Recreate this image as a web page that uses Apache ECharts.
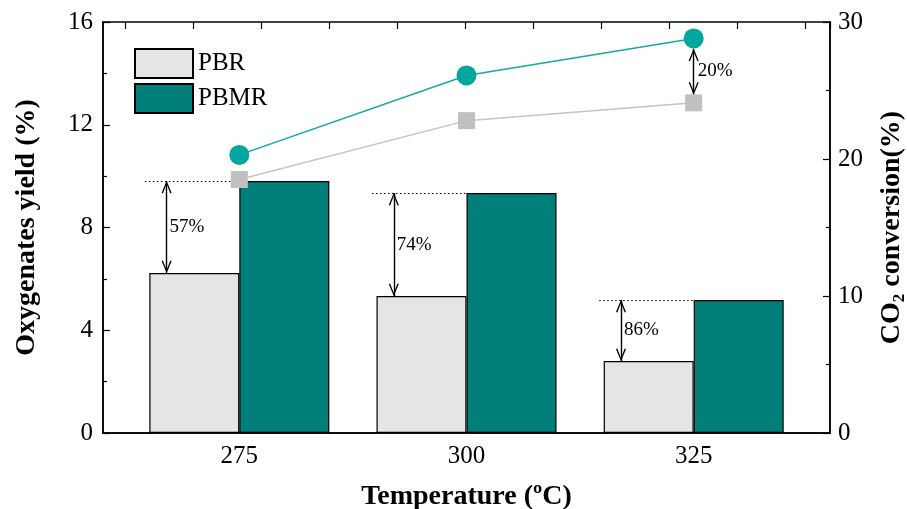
<!DOCTYPE html>
<html>
<head>
<meta charset="utf-8">
<script src="https://cdn.jsdelivr.net/npm/echarts@6/dist/echarts.min.js"></script>
<style>
  html, body { margin: 0; padding: 0; background: #fff; }
  #chart { width: 907px; height: 509px; }
</style>
</head>
<body>
<div id="chart"></div>
<script>
// temperatures (ºC)
const temps = [275, 300, 325]
// oxygenates yield (%), left axis
const pbrYield = [6.23, 5.33, 2.8]
const pbmrYield = [9.81, 9.34, 5.18]
// CO2 conversion (%), right axis
const pbrConv = [18.5, 22.8, 24.1]
const pbmrConv = [20.3, 26.1, 28.8]
// annotation texts
const yieldGain = ['57%', '74%', '86%']
const convGain = '20%'

const serif = 'Liberation Serif'
// open arrow head, tip sits at the symbol centre
const head = 'path://M5,-12 L5.01,-12 Z M5,0 L10,12 L8.7,12.5 L5,3.2 L1.3,12.5 L0,12 Z'

let arrows = []
let dotted = []
let gainPoints = []
temps.forEach((t, i) => {
  arrows.push([
    { coord: [t - 8, pbrYield[i]], symbol: head },
    { coord: [t - 8, pbmrYield[i]], symbol: head }
  ])
  dotted.push([
    { coord: [t - 10.4, pbmrYield[i]], symbol: 'none', lineStyle: { type: [1.5, 2.5], width: 1 } },
    { coord: [t, pbmrYield[i]], symbol: 'none' }
  ])
  gainPoints.push({ coord: [t - 8, (pbrYield[i] + pbmrYield[i]) / 2], label: { formatter: yieldGain[i] } })
})

const gainLabel = {
  show: true,
  position: 'right',
  distance: 3,
  color: '#000',
  fontFamily: serif,
  fontSize: 19
}

const axisBase = {
  axisLine: { show: true, onZero: false, lineStyle: { color: '#000', width: 1.5 } },
  axisTick: { show: true, inside: true, length: 7, lineStyle: { color: '#000', width: 1.2 } },
  minorTick: { show: true, splitNumber: 2, length: 4, lineStyle: { color: '#000', width: 1.2 } },
  splitLine: { show: false },
  axisLabel: { color: '#000', fontFamily: serif, fontSize: 25 },
  nameTextStyle: { color: '#000', fontFamily: serif, fontSize: 28, fontWeight: 'bold' }
}

let option = {
  animation: false,
  backgroundColor: '#fff',
  grid: [
    { left: 103, right: 77, top: 22, bottom: 76, outerBoundsMode: 'none', show: true, borderColor: '#000', borderWidth: 1.5 },
    { left: 125, right: 77, top: 22, bottom: 76, outerBoundsMode: 'none' }
  ],
  legend: {
    data: ['PBR', 'PBMR'],
    orient: 'vertical',
    left: 129,
    top: 43,
    icon: 'rect',
    itemWidth: 58,
    itemHeight: 29,
    itemGap: 4,
    textStyle: { color: '#000', fontFamily: serif, fontSize: 25 }
  },
  xAxis: [
    {
      ...axisBase,
      type: 'value',
      gridIndex: 0,
      min: 260,
      max: 340,
      interval: 5,
      axisTick: { show: false },
      minorTick: { show: false },
      axisLabel: {
        ...axisBase.axisLabel,
        margin: 11,
        formatter: v => (temps.includes(v) ? String(v) : '')
      },
      name: 'Temperature (ºC)',
      nameLocation: 'middle',
      nameGap: 50
    },
    {
      type: 'value',
      gridIndex: 1,
      position: 'top',
      min: 0,
      max: 705 / 68,
      interval: 1,
      axisLine: { show: false, onZero: false },
      axisTick: { show: true, inside: true, length: 7, lineStyle: { color: '#000', width: 1.2 } },
      axisLabel: { show: false },
      splitLine: { show: false }
    }
  ],
  yAxis: [
    {
      ...axisBase,
      type: 'value',
      gridIndex: 0,
      min: 0,
      max: 16,
      interval: 4,
      axisLabel: { ...axisBase.axisLabel, margin: 10 },
      name: 'Oxygenates yield (%)',
      nameLocation: 'middle',
      nameRotate: 90,
      nameGap: 62
    },
    {
      ...axisBase,
      type: 'value',
      gridIndex: 0,
      position: 'right',
      min: 0,
      max: 30,
      interval: 10,
      axisLabel: { ...axisBase.axisLabel, margin: 8 },
      name: '{b|CO}{s|2}{b| conversion(%)}',
      nameLocation: 'middle',
      nameRotate: 90,
      nameGap: 46,
      nameTextStyle: {
        rich: {
          b: { color: '#000', fontFamily: serif, fontSize: 28, fontWeight: 'bold' },
          s: { color: '#000', fontFamily: serif, fontSize: 17, fontWeight: 'bold', padding: [15, 0, 0, 0] }
        }
      }
    },
    { type: 'value', gridIndex: 1, show: false, min: 0, max: 1 }
  ],
  series: [
    {
      name: 'PBR',
      type: 'bar',
      xAxisIndex: 0,
      yAxisIndex: 0,
      barWidth: 90,
      barGap: '0%',
      itemStyle: { color: '#e5e5e5', borderColor: '#000', borderWidth: 1.2 },
      data: temps.map((t, i) => [t, pbrYield[i]])
    },
    {
      name: 'PBMR',
      type: 'bar',
      xAxisIndex: 0,
      yAxisIndex: 0,
      barWidth: 90,
      barGap: '0%',
      itemStyle: { color: '#007f7a', borderColor: '#000', borderWidth: 1.2 },
      data: temps.map((t, i) => [t, pbmrYield[i]])
    },
    {
      name: 'PBR conversion',
      type: 'line',
      xAxisIndex: 0,
      yAxisIndex: 1,
      symbol: 'rect',
      symbolSize: 17,
      itemStyle: { color: '#c0c0c0' },
      lineStyle: { color: '#c4c4c4', width: 1.5 },
      data: temps.map((t, i) => [t, pbrConv[i]]),
      z: 5
    },
    {
      name: 'PBMR conversion',
      type: 'line',
      xAxisIndex: 0,
      yAxisIndex: 1,
      symbol: 'circle',
      symbolSize: 20,
      itemStyle: { color: '#00a79e' },
      lineStyle: { color: '#14a9a1', width: 1.5 },
      data: temps.map((t, i) => [t, pbmrConv[i]]),
      z: 5,
      markLine: {
        silent: true,
        symbolSize: [10, 25],
        lineStyle: { color: '#000', width: 1.4, type: 'solid' },
        label: { show: false },
        data: [[
          { coord: [temps[2], pbmrConv[2] - 0.75], symbol: head },
          { coord: [temps[2], pbrConv[2] + 0.6], symbol: head }
        ]]
      },
      markPoint: {
        silent: true,
        symbol: 'rect',
        symbolSize: 0,
        label: { ...gainLabel, distance: 4, formatter: convGain },
        data: [{ coord: [temps[2], (pbmrConv[2] + pbrConv[2]) / 2] }]
      }
    },
    {
      name: 'yield gain',
      type: 'scatter',
      xAxisIndex: 0,
      yAxisIndex: 0,
      data: [],
      z: 6,
      markLine: {
        silent: true,
        symbolSize: [10, 25],
        lineStyle: { color: '#000', width: 1.4, type: 'solid' },
        label: { show: false },
        data: arrows.concat(dotted)
      },
      markPoint: {
        silent: true,
        symbol: 'rect',
        symbolSize: 0,
        itemStyle: { color: 'transparent' },
        label: gainLabel,
        data: gainPoints
      }
    }
  ]
}

let myChart = echarts.init(document.getElementById('chart'))
myChart.setOption(option)
</script>
</body>
</html>
